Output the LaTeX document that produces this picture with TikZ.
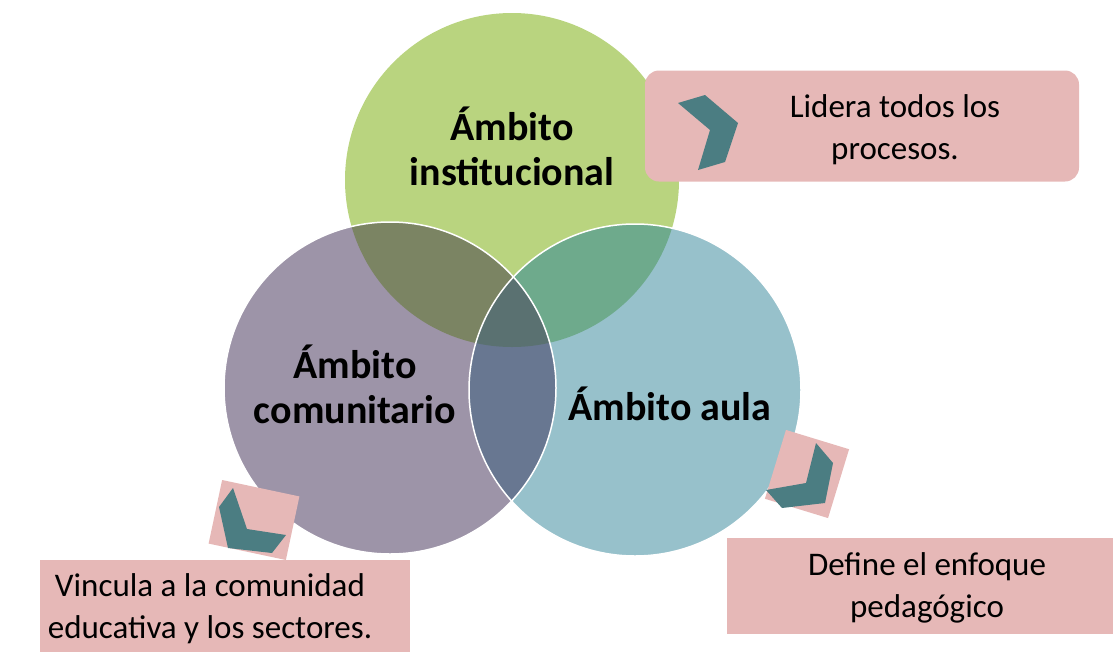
\documentclass[tikz,border=0pt]{standalone}
\usepackage{fontspec}
\setmainfont{Carlito}
\definecolor{instgreen}{HTML}{B9D47F}
\definecolor{comupurple}{HTML}{9D94A8}
\definecolor{aulateal}{HTML}{97C1CB}
\definecolor{icolive}{HTML}{7B8463}
\definecolor{iaseagreen}{HTML}{6EAA8C}
\definecolor{caslate}{HTML}{687791}
\definecolor{allgray}{HTML}{5A7171}
\definecolor{boxpink}{HTML}{E6B8B7}
\definecolor{chevteal}{HTML}{4B7D82}
\begin{document}
\begin{tikzpicture}[
                    x=1pt, y=-1pt,
                    area/.style={font=\fontsize{40}{45}\selectfont\bfseries, align=center},
                    note/.style={font=\fontsize{33}{42}\selectfont, align=center},
                    pinkbox/.style={rectangle, fill=boxpink, inner sep=0pt},
                    chev/.style={fill=chevteal}
                ]
                \useasboundingbox (0,0) rectangle (1113,651);
                % Circles
                \coordinate (cI) at (512,180);
                \coordinate (cC) at (390,388);
                \coordinate (cA) at (635,390);
                \fill [instgreen] (cI) circle (167);
                \fill [comupurple] (cC) circle (166);
                \fill [aulateal] (cA) circle (166);
                \begin{scope}
                    \clip (cI) circle (167);
                    \fill [icolive] (cC) circle (166);
                    \fill [iaseagreen] (cA) circle (166);
                \end{scope}
                \begin{scope}
                    \clip (cC) circle (166);
                    \fill [caslate] (cA) circle (166);
                    \clip (cA) circle (166);
                    \fill [allgray] (cI) circle (167);
                \end{scope}
                \draw [white, line width=1.5] (cC) circle (166);
                \draw [white, line width=1.5] (cA) circle (166);

                % Labels
                \node [area] (inst) at (512,146) {Ámbito\\institucional};
                \node [area] (comu) at (355,384) {Ámbito\\comunitario};
                \node [area] (aula) at (670,404) {Ámbito aula};

                % Boxes
                \node [pinkbox, rounded corners=14, minimum width=434, minimum height=111] (bxI) at (862,126) {};
                \node [pinkbox, minimum width=386, minimum height=96] (bxA) at (920,586) {};
                \node [pinkbox, minimum width=370, minimum height=92] (bxC) at (225,606) {};
                \node [pinkbox, minimum width=79, minimum height=65, rotate=-12] (sqC) at (254,520) {};
                \node [pinkbox, minimum width=66, minimum height=72, rotate=-17] (sqA) at (807,474) {};

                % Chevrons
                \fill [chev] (678,103) -- (705,95) -- (738,123) -- (725,162) -- (698,170) -- (710,130) -- cycle;
                \fill [chev] (233,488) -- (219,507) -- (228,548) -- (272,553) -- (286,535) -- (247,529) -- cycle;
                \fill [chev] (816,443) -- (833,463) -- (825,503) -- (782,508) -- (766,490) -- (806,483) -- cycle;

                % Texts
                \node [note] (txI) at (895,130) {Lidera todos los\\procesos.};
                \node [note] (txA) at (927,588) {Define el enfoque\\pedagógico};
                \node [note] (txC) at (210,609) {Vincula a la comunidad\\educativa y los sectores.};
            \end{tikzpicture}
\end{document}
